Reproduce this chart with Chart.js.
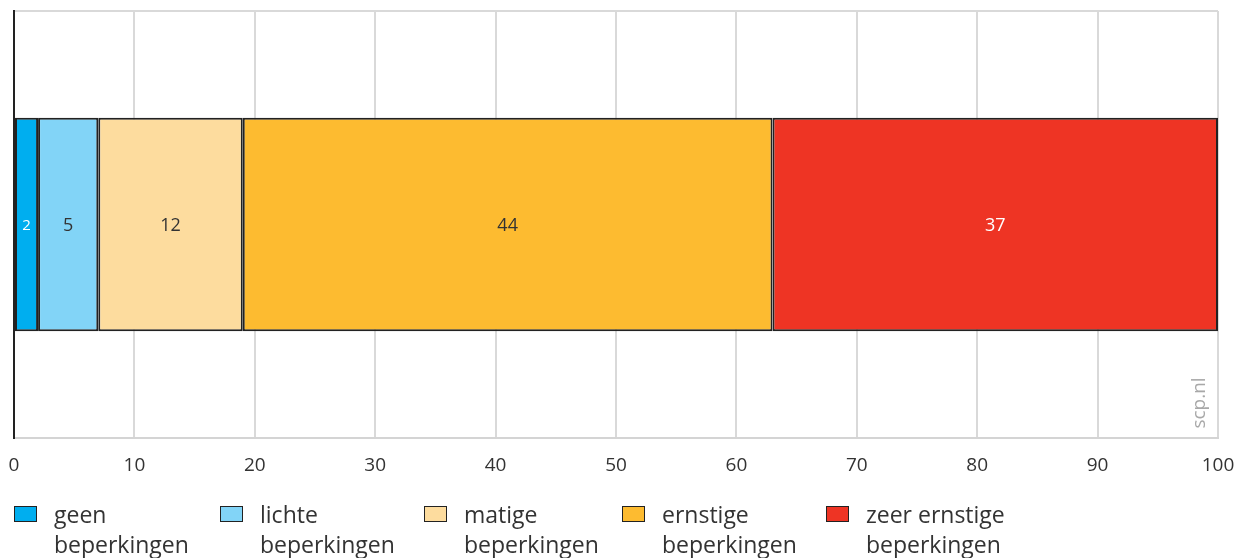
<!DOCTYPE html>
<html>
<head>
<meta charset="utf-8">
<script src="https://cdn.jsdelivr.net/npm/chart.js@4/dist/chart.umd.min.js"></script>
<style>
  html, body { margin: 0; padding: 0; background: #fff; }
  #wrap { position: relative; width: 1236px; height: 558px; }
  #c { position: absolute; left: 0; top: 0; }
  #legend { position: absolute; left: 0; top: 500px; width: 1236px; height: 58px; font-family: "Open Sans", sans-serif; font-size: 23px; color: #333; }
  .item { position: absolute; top: 0; }
  .box { position: absolute; left: 0; top: 6px; width: 21px; height: 14px; border: 1.5px solid #222; }
  .txt { position: absolute; left: 40px; top: -1px; line-height: 30px; white-space: nowrap; }
</style>
</head>
<body>
<div id="wrap">
  <canvas id="c" width="1236" height="558"></canvas>
  <div id="legend"></div>
</div>
<script>
const categories = [""];
const seriesNames = [
  ["geen", "beperkingen"],
  ["lichte", "beperkingen"],
  ["matige", "beperkingen"],
  ["ernstige", "beperkingen"],
  ["zeer ernstige", "beperkingen"]
];
const seriesValues = [[2], [5], [12], [44], [37]];
const xTicks = [0, 10, 20, 30, 40, 50, 60, 70, 80, 90, 100];

const colors = ["#00aeef", "#82d4f7", "#fddc9e", "#fdbb30", "#ee3424"];
const labelColors = ["#ffffff", "#333333", "#333333", "#333333", "#ffffff"];
const legendX = [14, 220, 424, 622, 826];

const FONT = '"Open Sans", sans-serif';

const valueLabels = {
  id: 'valueLabels',
  afterDatasetsDraw(chart) {
    const ctx = chart.ctx;
    chart.data.datasets.forEach((ds, i) => {
      const meta = chart.getDatasetMeta(i);
      meta.data.forEach((bar, j) => {
        const cx = (bar.x + bar.base) / 2;
        ctx.save();
        ctx.fillStyle = labelColors[i];
        ctx.font = (i === 0 ? 15 : 18) + 'px ' + FONT;
        ctx.textAlign = 'center';
        ctx.textBaseline = 'middle';
        ctx.fillText(String(ds.data[j]), cx, bar.y + 1);
        ctx.restore();
      });
    });
  }
};

const watermark = {
  id: 'watermark',
  afterDraw(chart) {
    const ctx = chart.ctx;
    const a = chart.chartArea;
    ctx.save();
    ctx.translate(a.right - 18, a.bottom - 35);
    ctx.rotate(-Math.PI / 2);
    ctx.fillStyle = '#a8a8a8';
    ctx.font = '19px ' + FONT;
    ctx.textAlign = 'center';
    ctx.textBaseline = 'middle';
    ctx.fillText('scp.nl', 0, 0);
    ctx.restore();
  }
};

new Chart(document.getElementById('c'), {
  type: 'bar',
  data: {
    labels: categories,
    datasets: seriesValues.map((v, i) => ({
      label: seriesNames[i].join(' '),
      data: v,
      backgroundColor: colors[i],
      borderColor: '#222222',
      borderWidth: 2,
      borderSkipped: false,
      barPercentage: 0.5,
      categoryPercentage: 1.0
    }))
  },
  options: {
    indexAxis: 'y',
    responsive: false,
    animation: false,
    layout: { padding: { top: 11, right: 18, bottom: 70, left: 0 } },
    plugins: { legend: { display: false }, tooltip: { enabled: false } },
    scales: {
      x: {
        stacked: true,
        min: 0, max: 100,
        afterBuildTicks: s => { s.ticks = xTicks.map(v => ({ value: v })); },
        afterFit: s => { s.height = 50; s.paddingLeft = 0; s.paddingRight = 0; },
        grid: { color: '#d9d9d9', lineWidth: 2, drawTicks: false },
        border: { color: '#d4d4d4', width: 2 },
        ticks: { color: '#333', font: { family: FONT, size: 19 }, padding: 16, maxRotation: 0 }
      },
      y: {
        stacked: true,
        afterFit: s => { s.width = 14; s.paddingTop = 0; s.paddingBottom = 0; },
        grid: { color: '#d9d9d9', lineWidth: 2, drawTicks: false },
        border: { color: '#222222', width: 2 },
        ticks: { display: false }
      }
    }
  },
  plugins: [valueLabels, watermark]
});

const legend = document.getElementById('legend');
seriesNames.forEach((name, i) => {
  const it = document.createElement('div');
  it.className = 'item';
  it.style.left = legendX[i] + 'px';
  const b = document.createElement('div');
  b.className = 'box';
  b.style.background = colors[i];
  const t = document.createElement('div');
  t.className = 'txt';
  t.innerHTML = name[0] + '<br>' + name[1];
  it.appendChild(b); it.appendChild(t);
  legend.appendChild(it);
});
</script>
</body>
</html>
